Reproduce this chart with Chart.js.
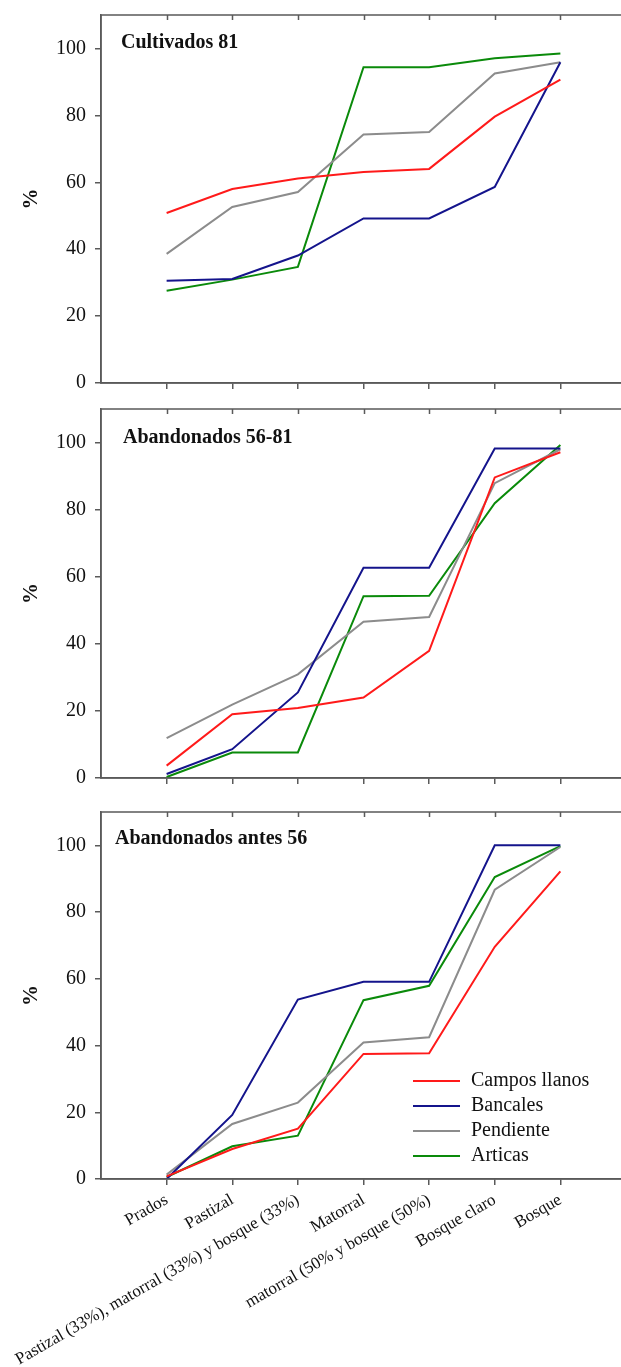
<!DOCTYPE html>
<html>
<head>
<meta charset="utf-8">
<script src="https://cdn.jsdelivr.net/npm/chart.js@4.4.1/dist/chart.umd.min.js"></script>
<style>
  html, body { margin: 0; padding: 0; background: #fff; overflow: hidden; }
  .panel { position: absolute; left: 0; width: 640px; }
</style>
</head>
<body>
<div class="panel" style="top:0px;height:396px"><canvas id="c1" width="640" height="396"></canvas></div>
<div class="panel" style="top:396px;height:396px"><canvas id="c2" width="640" height="396"></canvas></div>
<div class="panel" style="top:792px;height:575px"><canvas id="c3" width="640" height="575"></canvas></div>
<script>
const categories = [
  'Prados',
  'Pastizal',
  'Pastizal (33%), matorral (33%) y bosque (33%)',
  'Matorral',
  'matorral (50% y bosque (50%)',
  'Bosque claro',
  'Bosque',
];
const seriesNames = ['Campos llanos', 'Bancales', 'Pendiente', 'Articas'];
const seriesColors = ['#ff1a1a', '#14148c', '#8c8c8c', '#0a8a0a'];
const yTicks = [0, 20, 40, 60, 80, 100];

// Cultivados 81
const campos1 = [50.8, 58.0, 61.1, 63.1, 64.0, 79.6, 90.7];
const bancales1 = [30.6, 31.1, 38.1, 49.2, 49.2, 58.6, 95.9];
const pendiente1 = [38.6, 52.6, 57.1, 74.3, 75.0, 92.5, 95.9];
const articas1 = [27.6, 30.9, 34.7, 94.4, 94.4, 97.1, 98.5];

// Abandonados 56-81
const campos2 = [3.7, 19.0, 20.9, 24.0, 37.9, 89.6, 97.1];
const bancales2 = [1.2, 8.6, 25.5, 62.7, 62.7, 98.2, 98.2];
const pendiente2 = [11.9, 21.9, 30.9, 46.6, 48.0, 87.9, 98.0];
const articas2 = [0.3, 7.6, 7.6, 54.2, 54.3, 81.9, 99.3];

// Abandonados antes 56
const campos3 = [0.8, 9.0, 15.1, 37.5, 37.7, 69.6, 92.2];
const bancales3 = [0, 19.2, 53.8, 59.1, 59.1, 100, 100];
const pendiente3 = [1.3, 16.5, 22.9, 40.9, 42.5, 86.7, 99.5];
const articas3 = [0.6, 9.8, 13.0, 53.6, 57.9, 90.5, 99.8];

const AXIS = '#5a5a5a';
const SERIF = "'Liberation Serif', 'DejaVu Serif', serif";

// box around the plot + small inward ticks on top, panel title, optional legend
const frame = {
  id: 'frame',
  afterDraw(chart, args, opts) {
    const ctx = chart.ctx;
    const a = chart.chartArea;
    const xs = chart.scales.x;
    ctx.save();
    ctx.strokeStyle = AXIS;
    ctx.lineWidth = 1.5;
    ctx.strokeRect(a.left, a.top, a.right - a.left, a.bottom - a.top);
    ctx.beginPath();
    xs.ticks.forEach(t => {
      const px = Math.round(xs.getPixelForValue(t.value)) + 0.5;
      ctx.moveTo(px, a.top);
      ctx.lineTo(px, a.top + 5);
    });
    ctx.stroke();

    ctx.fillStyle = '#111';
    ctx.font = 'bold 20px ' + SERIF;
    ctx.textBaseline = 'alphabetic';
    ctx.fillText(opts.title, a.left + opts.titleDx, a.top + opts.titleDy);

    if (opts.legend) {
      ctx.font = '20px ' + SERIF;
      ctx.textBaseline = 'middle';
      chart.data.datasets.forEach((ds, i) => {
        const y = opts.legendY + i * 25;
        ctx.strokeStyle = ds.borderColor;
        ctx.lineWidth = 2;
        ctx.beginPath();
        ctx.moveTo(opts.legendX, y);
        ctx.lineTo(opts.legendX + 47, y);
        ctx.stroke();
        ctx.fillStyle = '#111';
        ctx.fillText(ds.label, opts.legendX + 58, y);
      });
    }
    ctx.restore();
  }
};

function makeChart(id, series, cfg) {
  const datasets = series.map((vals, i) => ({
    label: seriesNames[i],
    data: vals.map((v, j) => ({ x: j + 1, y: v })),
    borderColor: seriesColors[i],
    backgroundColor: seriesColors[i],
    borderWidth: 2,
    pointRadius: 0,
    tension: 0,
  }));
  return new Chart(document.getElementById(id), {
    type: 'line',
    data: { datasets },
    plugins: [frame],
    options: {
      responsive: false,
      animation: false,
      layout: { padding: { top: cfg.padTop, right: 14, left: 0, bottom: 0 } },
      plugins: {
        legend: { display: false },
        tooltip: { enabled: false },
        frame: cfg.frame,
      },
      scales: {
        x: {
          type: 'linear',
          min: 0,
          max: 8,
          afterBuildTicks: s => { s.ticks = categories.map((c, i) => ({ value: i + 1 })); },
          afterFit: s => { s.height = cfg.xHeight; s.paddingLeft = 0; s.paddingRight = 0; },
          grid: { drawOnChartArea: false, tickLength: 6, color: AXIS, lineWidth: 1.5 },
          border: { color: AXIS, width: 1.5 },
          ticks: {
            display: cfg.showLabels,
            autoSkip: false,
            minRotation: 30,
            maxRotation: 30,
            padding: 5,
            color: '#111',
            font: { family: SERIF, size: 17 },
            callback: v => categories[v - 1] || '',
          },
        },
        y: {
          min: 0,
          max: 110,
          afterBuildTicks: s => { s.ticks = yTicks.map(v => ({ value: v })); },
          afterFit: s => { s.width = 101; s.paddingTop = 0; s.paddingBottom = 0; },
          grid: { drawOnChartArea: false, tickLength: 6, color: AXIS, lineWidth: 1.5 },
          border: { color: AXIS, width: 1.5 },
          ticks: { padding: 9, color: '#111', font: { family: SERIF, size: 20 } },
          title: {
            display: true,
            text: '%',
            color: '#111',
            padding: { top: 19, bottom: 0 },
            font: { family: SERIF, size: 21, weight: 'bold' },
          },
        },
      },
    },
  });
}

makeChart('c1', [campos1, bancales1, pendiente1, articas1], {
  padTop: 15, xHeight: 13, showLabels: false,
  frame: { title: 'Cultivados 81', titleDx: 20, titleDy: 33 },
});
makeChart('c2', [campos2, bancales2, pendiente2, articas2], {
  padTop: 13, xHeight: 14, showLabels: false,
  frame: { title: 'Abandonados 56-81', titleDx: 22, titleDy: 34 },
});
makeChart('c3', [campos3, bancales3, pendiente3, articas3], {
  padTop: 20, xHeight: 188, showLabels: true,
  frame: { title: 'Abandonados antes 56', titleDx: 14, titleDy: 32, legend: true, legendX: 413, legendY: 289 },
});
</script>
</body>
</html>
